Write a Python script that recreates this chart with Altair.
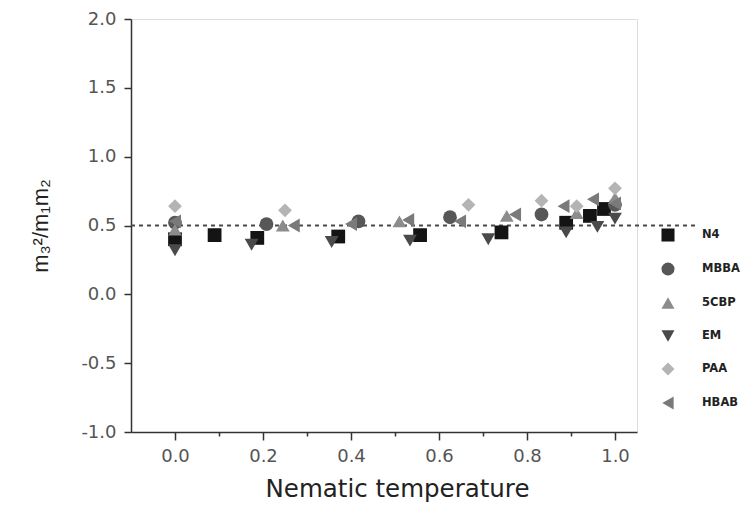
import altair as alt
import pandas as pd

# ---- data ----
series_names = ["N4", "MBBA", "5CBP", "EM", "PAA", "HBAB"]

n4_x = [0.0, 0.09, 0.187, 0.371, 0.557, 0.742, 0.889, 0.943, 0.975]
n4_y = [0.40, 0.43, 0.41, 0.42, 0.43, 0.45, 0.52, 0.57, 0.62]

mbba_x = [0.0, 0.208, 0.417, 0.625, 0.833, 1.0]
mbba_y = [0.52, 0.51, 0.53, 0.56, 0.58, 0.65]

cbp_x = [0.0, 0.245, 0.51, 0.754, 0.913, 1.0]
cbp_y = [0.47, 0.50, 0.53, 0.57, 0.59, 0.70]

em_x = [0.0, 0.174, 0.356, 0.534, 0.712, 0.889, 0.96, 1.0]
em_y = [0.32, 0.36, 0.38, 0.39, 0.40, 0.45, 0.49, 0.55]

paa_x = [0.0, 0.25, 0.667, 0.833, 0.913, 1.0]
paa_y = [0.64, 0.61, 0.65, 0.68, 0.64, 0.77]

hbab_x = [0.0, 0.27, 0.40, 0.53, 0.648, 0.773, 0.883, 0.95, 1.0]
hbab_y = [0.53, 0.50, 0.51, 0.54, 0.53, 0.58, 0.64, 0.69, 0.66]

ref_y = 0.5
ref_x_start = -0.1
ref_x_end = 1.19

x_ticks = [0.0, 0.1, 0.2, 0.3, 0.4, 0.5, 0.6, 0.7, 0.8, 0.9, 1.0]
y_ticks = [-1.0, -0.75, -0.5, -0.25, 0.0, 0.25, 0.5, 0.75, 1.0, 1.25, 1.5, 1.75, 2.0]

shapes = ["square", "circle", "triangle-up", "triangle-down", "diamond", "triangle-left"]
colors = ["#141414", "#575757", "#8c8c8c", "#4a4a4a", "#b4b4b4", "#7a7a7a"]

rows = []
for name, xs, ys in [("N4", n4_x, n4_y), ("MBBA", mbba_x, mbba_y), ("5CBP", cbp_x, cbp_y),
                     ("EM", em_x, em_y), ("PAA", paa_x, paa_y), ("HBAB", hbab_x, hbab_y)]:
    for a, b in zip(xs, ys):
        rows.append({"series": name, "x": a, "y": b})
df = pd.DataFrame(rows)

ref_df = pd.DataFrame({"x": [ref_x_start], "x2": [ref_x_end], "y": [ref_y]})

x_scale = alt.Scale(domain=[-0.1, 1.05], nice=False, zero=False)
y_scale = alt.Scale(domain=[-1.0, 2.0], nice=False, zero=False)

x_major = "abs(round(datum.value*5) - datum.value*5) < 0.01"
y_major = "abs(round(datum.value*2) - datum.value*2) < 0.01"

x_axis = alt.Axis(
    title="Nematic temperature",
    values=x_ticks,
    labelExpr=f"{x_major} ? replace(format(datum.value, '.1f'), '\u2212', '-') : ''",
    tickSize={"condition": {"test": x_major, "value": 8}, "value": 4},
    grid=False, domainColor="#333333", domainWidth=1.5, tickColor="#333333", tickWidth=1.5,
    labelFont="DejaVu Sans", labelFontSize=18, labelColor="#555555", labelPadding=7,
    titleFont="DejaVu Sans", titleFontSize=24.5, titleFontWeight="normal", titleColor="#222222",
    titlePadding=12, titleX=266,
)
y_axis = alt.Axis(
    title="m₃²/m₁m₂",
    values=y_ticks,
    labelExpr=f"{y_major} ? replace(format(datum.value, '.1f'), '\u2212', '-') : ''",
    tickSize={"condition": {"test": y_major, "value": 7}, "value": 4},
    grid=False, domainColor="#333333", domainWidth=1.5, tickColor="#333333", tickWidth=1.5,
    labelFont="DejaVu Sans", labelFontSize=18, labelColor="#555555", labelPadding=8,
    titleFont="Liberation Sans", titleFontSize=22, titleFontWeight="normal", titleColor="#222222",
    titlePadding=28,
)

points = alt.Chart(df).mark_point(filled=True, opacity=1, size=190).encode(
    x=alt.X("x:Q", scale=x_scale, axis=x_axis),
    y=alt.Y("y:Q", scale=y_scale, axis=y_axis),
    color=alt.Color("series:N", scale=alt.Scale(domain=series_names, range=colors),
                    legend=alt.Legend(title=None, orient="none", legendX=530, legendY=209,
                                      symbolSize=170, labelFont="DejaVu Sans",
                                      labelFontSize=11.5, labelFontWeight="bold",
                                      labelColor="#222222", labelOffset=27, rowPadding=20,
                                      symbolStrokeWidth=0)),
    shape=alt.Shape("series:N", scale=alt.Scale(domain=series_names, range=shapes)),
)

ref = alt.Chart(ref_df).mark_rule(color="#4a4a4a", strokeWidth=2.2, strokeDash=[4, 4], clip=False).encode(
    x=alt.X("x:Q", scale=x_scale),
    x2="x2:Q",
    y=alt.Y("y:Q", scale=y_scale),
)

chart = alt.layer(ref, points).properties(
    width=506, height=413,
    autosize=alt.AutoSizeParams(type="none"),
    padding={"left": 123, "top": 11, "right": 108, "bottom": 74},
).configure_view(stroke=None).configure(background="white")

chart.save("out.html", embed_options={"renderer": "svg", "actions": False})
